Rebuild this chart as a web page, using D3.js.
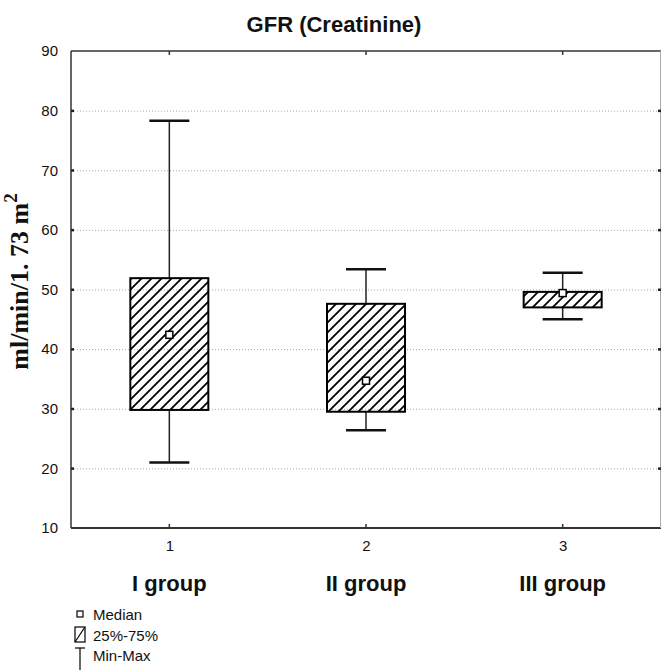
<!DOCTYPE html>
<html>
<head>
<meta charset="utf-8">
<script src="https://cdn.jsdelivr.net/npm/d3@7"></script>
<style>
  body { margin: 0; background: #fff; }
  svg { display: block; }
  text { font-family: "Liberation Sans", Arial, sans-serif; fill: #111; }
</style>
</head>
<body>
<div id="chart"></div>
<script>
// data
const groups = ["I group", "II group", "III group"];
const positions = [1, 2, 3];
const mins = [21.0, 26.4, 45.0];
const q1s = [29.8, 29.5, 47.0];
const medians = [42.4, 34.7, 49.4];
const q3s = [51.9, 47.6, 49.6];
const maxs = [78.3, 53.4, 52.8];
const yTicks = [10, 20, 30, 40, 50, 60, 70, 80, 90];
const legendItems = ["Median", "25%-75%", "Min-Max"];

const width = 662, height = 670;
const margin = { top: 51, right: 1, bottom: 142, left: 71 };

const svg = d3.select("#chart").append("svg")
  .attr("width", width)
  .attr("height", height);

const x = d3.scaleLinear().domain([0.5, 3.5]).range([margin.left, width - margin.right]);
const y = d3.scaleLinear().domain([10, 90]).range([height - margin.bottom, margin.top]);

const boxes = positions.map((p, i) => ({
  pos: p, name: groups[i], min: mins[i], q1: q1s[i], med: medians[i], q3: q3s[i], max: maxs[i]
}));

// hatch
const defs = svg.append("defs");
defs.append("pattern")
  .attr("id", "hatch")
  .attr("patternUnits", "userSpaceOnUse")
  .attr("width", 10).attr("height", 10)
  .append("path")
  .attr("d", "M0,10 L10,0 M-2.5,2.5 L2.5,-2.5 M7.5,12.5 L12.5,7.5")
  .attr("stroke", "#000")
  .attr("stroke-width", 1.8);

// title
svg.append("text")
  .attr("x", 334).attr("y", 32)
  .attr("text-anchor", "middle")
  .attr("font-size", 22).attr("font-weight", "bold")
  .text("GFR (Creatinine)");

// grid lines
svg.append("g")
  .selectAll("line")
  .data(yTicks.filter(t => t > 10 && t < 90))
  .enter().append("line")
  .attr("x1", x.range()[0]).attr("x2", x.range()[1])
  .attr("y1", d => y(d) + 0.5).attr("y2", d => y(d) + 0.5)
  .attr("stroke", "#aaa")
  .attr("stroke-width", 1)
  .attr("stroke-dasharray", "1,2");

// frame
const [x0, x1] = x.range();
const [yb, yt] = y.range();
svg.append("line").attr("x1", x0).attr("x2", x1).attr("y1", yt).attr("y2", yt)
  .attr("stroke", "#333").attr("stroke-width", 1.5);
svg.append("line").attr("x1", x0).attr("x2", x1).attr("y1", yb).attr("y2", yb)
  .attr("stroke", "#333").attr("stroke-width", 2);
svg.append("line").attr("x1", x0).attr("x2", x0).attr("y1", yt).attr("y2", yb)
  .attr("stroke", "#333").attr("stroke-width", 1.5);
svg.append("line").attr("x1", x1 - 0.5).attr("x2", x1 - 0.5).attr("y1", yt).attr("y2", yb)
  .attr("stroke", "#aaa").attr("stroke-width", 1);

// y axis
svg.append("g")
  .attr("transform", `translate(${x0},0)`)
  .call(d3.axisLeft(y).tickValues(yTicks).tickSize(0).tickPadding(13))
  .call(g => g.select(".domain").remove())
  .call(g => g.selectAll("text").attr("font-size", 15).attr("fill", "#111")
    .style("font-family", "'Liberation Sans', Arial, sans-serif"));

// inner tick marks left/right
svg.append("g").selectAll("rect")
  .data(yTicks.filter(t => t > 10 && t < 90))
  .enter().append("rect")
  .attr("x", x0).attr("y", d => y(d) - 1)
  .attr("width", 3).attr("height", 2.5).attr("fill", "#222");
svg.append("g").selectAll("rect")
  .data(yTicks.filter(t => t > 10 && t < 90))
  .enter().append("rect")
  .attr("x", x1 - 3).attr("y", d => y(d) - 1)
  .attr("width", 3).attr("height", 2.5).attr("fill", "#222");

// x axis
svg.append("g")
  .attr("transform", `translate(0,${yb})`)
  .call(d3.axisBottom(x).tickValues(positions).tickFormat(d3.format("d")).tickSize(0).tickPadding(12))
  .call(g => g.select(".domain").remove())
  .call(g => g.selectAll("text").attr("font-size", 15).attr("fill", "#111")
    .style("font-family", "'Liberation Sans', Arial, sans-serif"));

svg.append("g").selectAll("line")
  .data(positions)
  .enter().append("line")
  .attr("x1", d => x(d)).attr("x2", d => x(d))
  .attr("y1", yb).attr("y2", yb - 4)
  .attr("stroke", "#333").attr("stroke-width", 1.5);
svg.append("g").selectAll("line")
  .data(positions)
  .enter().append("line")
  .attr("x1", d => x(d)).attr("x2", d => x(d))
  .attr("y1", yt).attr("y2", yt + 4)
  .attr("stroke", "#333").attr("stroke-width", 1.5);

// group labels
svg.append("g").selectAll("text")
  .data(boxes)
  .enter().append("text")
  .attr("x", d => x(d.pos)).attr("y", 591)
  .attr("text-anchor", "middle")
  .attr("font-size", 22).attr("font-weight", "bold")
  .text(d => d.name);

// y title
svg.append("text")
  .attr("transform", `translate(28,${(yt + yb) / 2 - 8}) rotate(-90)`)
  .attr("text-anchor", "middle")
  .style("font-family", "'Liberation Serif', 'Times New Roman', serif")
  .attr("font-size", 26).attr("font-weight", "bold")
  .call(t => {
    t.append("tspan").text("ml/min/1. 73 m");
    t.append("tspan").attr("dy", -11).attr("font-size", 19).text("2");
  });

// boxes
const boxW = 78, capW = 40;
const bg = svg.append("g").selectAll("g")
  .data(boxes)
  .enter().append("g");

bg.append("line")
  .attr("x1", d => x(d.pos)).attr("x2", d => x(d.pos))
  .attr("y1", d => y(d.max)).attr("y2", d => y(d.q3))
  .attr("stroke", "#222").attr("stroke-width", 1.5);
bg.append("line")
  .attr("x1", d => x(d.pos)).attr("x2", d => x(d.pos))
  .attr("y1", d => y(d.q1)).attr("y2", d => y(d.min))
  .attr("stroke", "#222").attr("stroke-width", 1.5);
bg.append("line")
  .attr("x1", d => x(d.pos) - capW / 2).attr("x2", d => x(d.pos) + capW / 2)
  .attr("y1", d => y(d.max)).attr("y2", d => y(d.max))
  .attr("stroke", "#111").attr("stroke-width", 2.5);
bg.append("line")
  .attr("x1", d => x(d.pos) - capW / 2).attr("x2", d => x(d.pos) + capW / 2)
  .attr("y1", d => y(d.min)).attr("y2", d => y(d.min))
  .attr("stroke", "#111").attr("stroke-width", 2.5);

bg.append("rect")
  .attr("x", d => x(d.pos) - boxW / 2)
  .attr("y", d => y(d.q3))
  .attr("width", boxW)
  .attr("height", d => y(d.q1) - y(d.q3))
  .attr("fill", "url(#hatch)")
  .attr("stroke", "#000").attr("stroke-width", 2);

bg.append("rect")
  .attr("x", d => x(d.pos) - 3.5)
  .attr("y", d => y(d.med) - 3.5)
  .attr("width", 7).attr("height", 7)
  .attr("fill", "#fff")
  .attr("stroke", "#000").attr("stroke-width", 1.5);

// legend
const lg = svg.append("g");
const lx = 80;
lg.append("rect").attr("x", lx - 3).attr("y", 611).attr("width", 6).attr("height", 6)
  .attr("fill", "#fff").attr("stroke", "#000").attr("stroke-width", 1.2);
lg.append("rect").attr("x", lx - 5).attr("y", 627).attr("width", 10).attr("height", 15)
  .attr("fill", "#fff").attr("stroke", "#000").attr("stroke-width", 1.2);
lg.append("line").attr("x1", lx - 5).attr("y1", 642).attr("x2", lx + 5).attr("y2", 627)
  .attr("stroke", "#000").attr("stroke-width", 1.2);
lg.append("line").attr("x1", lx - 5).attr("y1", 648).attr("x2", lx + 5).attr("y2", 648)
  .attr("stroke", "#000").attr("stroke-width", 1.2);
lg.append("line").attr("x1", lx).attr("y1", 648).attr("x2", lx).attr("y2", 670)
  .attr("stroke", "#000").attr("stroke-width", 1.2);

lg.selectAll("text")
  .data(legendItems)
  .enter().append("text")
  .attr("x", 93)
  .attr("y", (d, i) => 620 + i * 20.5)
  .attr("font-size", 15)
  .text(d => d);
</script>
</body>
</html>
